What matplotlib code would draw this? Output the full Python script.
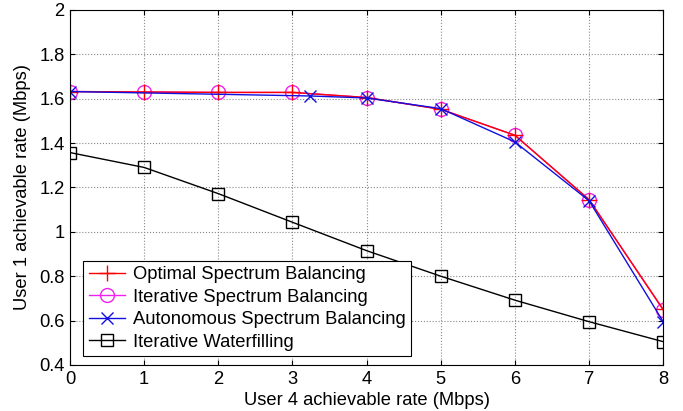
import numpy as np
import matplotlib
matplotlib.use("Agg")
import matplotlib.pyplot as plt
from matplotlib.ticker import FuncFormatter

plt.rcParams['font.family'] = ['Liberation Sans', 'DejaVu Sans']

# user 4 rate (Mbps)
x = [0, 1, 2, 3, 4, 5, 6, 7, 8]
osb = [1.632, 1.630, 1.628, 1.628, 1.605, 1.552, 1.435, 1.145, 0.650]
isb = [1.632, 1.630, 1.628, 1.628, 1.605, 1.552, 1.435, 1.145, 0.648]
x_asb = [0, 3.24, 4, 5, 6, 7, 8]
asb = [1.632, 1.612, 1.603, 1.555, 1.405, 1.140, 0.595]
iwf = [1.357, 1.290, 1.172, 1.043, 0.915, 0.800, 0.692, 0.595, 0.505]

fs = 13.2

fig = plt.figure(figsize=(6.83, 4.11), dpi=100)
ax = fig.add_axes([0.1025, 0.112, 0.8685, 0.864])

# magenta under red so the red line shows on top
h_isb, = ax.plot(x, isb, color='#f020f0', marker='o', markersize=10, mfc='none', lw=1,
                 label='Iterative Spectrum Balancing')
h_osb, = ax.plot(x, osb, color='red', marker='+', markersize=12, lw=1,
                 label='Optimal Spectrum Balancing')
h_asb, = ax.plot(x_asb, asb, color='#1010e0', marker='x', markersize=8, lw=1,
                 label='Autonomous Spectrum Balancing')
h_iwf, = ax.plot(x, iwf, color='black', marker='s', markersize=8.5, mfc='none', lw=1,
                 label='Iterative Waterfilling')

ax.set_xlim(0, 8)
ax.set_ylim(0.4, 2)
ax.set_xticks(range(0, 9))
ax.set_yticks(np.arange(0.4, 2.01, 0.2))
ax.yaxis.set_major_formatter(FuncFormatter(lambda v, p: '%g' % round(v, 1)))
ax.tick_params(direction='in', labelsize=fs, top=True, right=True, pad=4)
ax.grid(True, linestyle=':', color='#888888', lw=0.8)

ax.set_xlabel('User 4 achievable rate (Mbps)', fontsize=fs, labelpad=3)
ax.set_ylabel('User 1 achievable rate (Mbps)', fontsize=fs, labelpad=6)

leg = ax.legend(handles=[h_osb, h_isb, h_asb, h_iwf], loc='lower left',
                bbox_to_anchor=(0.022, 0.025), borderaxespad=0, fontsize=fs,
                fancybox=False, framealpha=1, edgecolor='black',
                handletextpad=0.4, labelspacing=0.3, borderpad=0.3)
leg.get_frame().set_linewidth(0.8)

fig.savefig('out.png', dpi=100)
